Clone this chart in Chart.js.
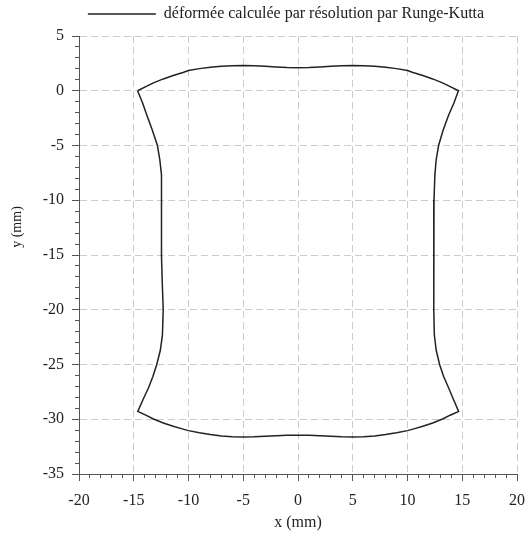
<!DOCTYPE html>
<html>
<head>
<meta charset="utf-8">
<script src="https://cdn.jsdelivr.net/npm/chart.js@4.4.0/dist/chart.umd.min.js"></script>
<style>
  html, body { margin: 0; padding: 0; background: #fff; }
</style>
</head>
<body>
<canvas id="deformee" width="526" height="536"></canvas>
<script>
const seriesLabel = "déformée calculée par résolution par Runge-Kutta";

// top edge, left to right
const topX = [-14.65, -13.9, -13.2, -12.3, -11.4, -10.5, -10, -9, -8, -7, -6, -5, -4, -3, -2, -1, 0,
  1, 2, 3, 4, 5, 6, 7, 8, 9, 10, 10.5, 11.4, 12.3, 13.2, 13.9, 14.65];
const topY = [0, 0.37, 0.72, 1.08, 1.39, 1.67, 1.84, 2.02, 2.15, 2.24, 2.29, 2.3, 2.28, 2.24, 2.18, 2.13, 2.11,
  2.13, 2.18, 2.24, 2.28, 2.3, 2.29, 2.24, 2.15, 2.02, 1.84, 1.67, 1.39, 1.08, 0.72, 0.37, 0];

// right edge, top to bottom
const rightX = [14.25, 13.76, 13.25, 12.84, 12.62, 12.5, 12.42, 12.42, 12.42, 12.39, 12.37, 12.45, 12.62, 12.93, 13.3, 13.76, 14.2];
const rightY = [-1.1, -2.21, -3.6, -5, -6.3, -7.68, -10, -12.55, -15, -17.42, -20, -22.28, -23.7, -25, -26.1, -27.15, -28.2];

// bottom edge, right to left
const bottomX = [14.67, 13.9, 13.2, 12.3, 11.4, 10.5, 10, 9, 8, 7, 6, 5, 4, 3, 2, 1, 0,
  -1, -2, -3, -4, -5, -6, -7, -8, -9, -10, -10.5, -11.4, -12.3, -13.2, -13.9, -14.63];
const bottomY = [-29.28, -29.63, -29.98, -30.34, -30.64, -30.9, -31.04, -31.24, -31.4, -31.52, -31.59, -31.62, -31.6, -31.55, -31.5, -31.46, -31.45,
  -31.46, -31.5, -31.55, -31.6, -31.62, -31.59, -31.52, -31.4, -31.24, -31.04, -30.9, -30.64, -30.34, -29.98, -29.63, -29.28];

// left edge, bottom to top
const leftX = [-14.15, -13.66, -13.25, -12.9, -12.57, -12.38, -12.31, -12.4, -12.47, -12.47, -12.45, -12.48, -12.62, -12.84, -13.3, -13.81, -14.2, -14.65];
const leftY = [-28.2, -27.15, -26.1, -25, -23.7, -22.28, -20, -17.42, -15, -12.55, -10, -7.68, -6.3, -5, -3.6, -2.21, -1.1, 0];

// axes
const xRange = [-20, 20];
const yRange = [-35, 5];
const majorStep = 5;
const minorStep = 1;

const xs = [...topX, ...rightX, ...bottomX, ...leftX];
const ys = [...topY, ...rightY, ...bottomY, ...leftY];
const outline = xs.map((x, i) => ({ x: x, y: ys[i] }));

const serif = "'Liberation Serif', 'Times New Roman', serif";
const ink = "#222";
const axisGrey = "#555";

// move the legend a bit to the right and up, like the reference
const legendNudge = {
  id: "legendNudge",
  afterLayout(chart) {
    const lg = chart.legend;
    lg.left += 23;
    lg.right += 23;
    lg.top -= 4;
    lg.bottom -= 4;
  },
};

new Chart(document.getElementById("deformee"), {
  type: "scatter",
  data: {
    datasets: [
      {
        label: seriesLabel,
        data: outline,
        showLine: true,
        borderColor: ink,
        backgroundColor: "rgba(0,0,0,0)",
        borderWidth: 1.5,
        pointRadius: 0,
        tension: 0,
      },
    ],
  },
  options: {
    responsive: false,
    animation: false,
    layout: { padding: 0 },
    plugins: {
      legend: {
        position: "top",
        labels: {
          boxWidth: 68,
          boxHeight: 0,
          color: ink,
          font: { family: serif, size: 16 },
        },
      },
      tooltip: { enabled: false },
    },
    scales: {
      x: {
        type: "linear",
        position: "bottom",
        weight: 1,
        min: xRange[0],
        max: xRange[1],
        afterFit: (s) => {
          s.height = 62;
          s.paddingLeft = 0;
          s.paddingRight = 9;
        },
        ticks: { stepSize: majorStep, padding: 10, color: ink, font: { family: serif, size: 16 } },
        grid: { color: "#cccccc", tickLength: 7, tickColor: axisGrey },
        border: { color: axisGrey, dash: [7, 4] },
        title: { display: true, text: "x (mm)", color: ink, font: { family: serif, size: 16 }, padding: { bottom: 4 } },
      },
      xMinor: {
        type: "linear",
        axis: "x",
        position: "bottom",
        weight: 0,
        min: xRange[0],
        max: xRange[1],
        afterFit: (s) => { s.height = 0; },
        ticks: { stepSize: minorStep, display: false },
        grid: { drawOnChartArea: false, tickLength: 4, tickColor: axisGrey },
        border: { display: false },
      },
      y: {
        type: "linear",
        position: "left",
        weight: 1,
        min: yRange[0],
        max: yRange[1],
        afterFit: (s) => { s.width = 79; },
        ticks: { stepSize: majorStep, padding: 8, color: ink, font: { family: serif, size: 16 } },
        grid: { color: "#cccccc", tickLength: 7, tickColor: axisGrey },
        border: { color: axisGrey, dash: [7, 4] },
        title: { display: true, text: "                y (mm)", color: ink, font: { family: serif, size: 14 }, padding: { top: 9 } },
      },
      yMinor: {
        type: "linear",
        axis: "y",
        position: "left",
        weight: 0,
        min: yRange[0],
        max: yRange[1],
        afterFit: (s) => { s.width = 0; },
        ticks: { stepSize: minorStep, display: false },
        grid: { drawOnChartArea: false, tickLength: 4, tickColor: axisGrey },
        border: { display: false },
      },
    },
  },
  plugins: [legendNudge],
});
</script>
</body>
</html>
